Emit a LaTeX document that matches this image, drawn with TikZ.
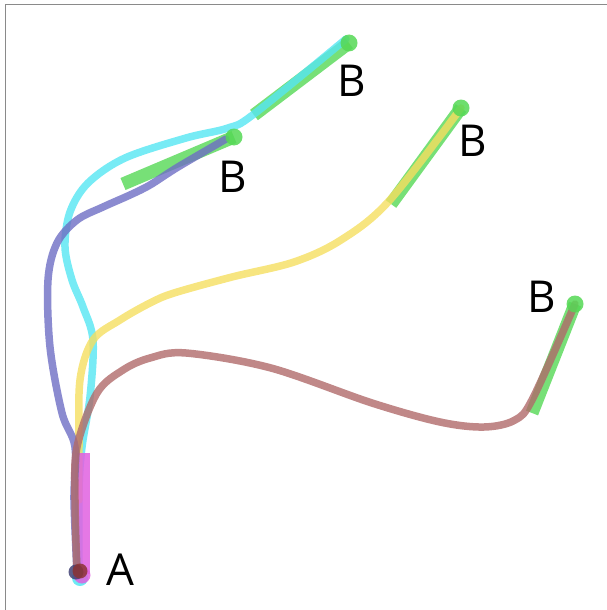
\documentclass[tikz,border=0pt]{standalone}
\usepackage{fontspec}
\setmainfont{Open Sans}
\definecolor{cyanc}{HTML}{55E6F2}
\definecolor{purplec}{HTML}{6E6EC4}
\definecolor{yellowc}{HTML}{F5DF60}
\definecolor{maroonc}{HTML}{B06A6A}
\definecolor{greenc}{HTML}{55D855}
\definecolor{magentac}{HTML}{E060E0}
\definecolor{framec}{HTML}{8A8A8A}
\begin{document}
\begin{tikzpicture}[x=1pt,y=-1pt,
  curve/.style={line width=7.5pt,opacity=0.8,line cap=round,line join=round},
  seg/.style={line width=13pt,greenc,opacity=0.8},
  dot/.style={circle,fill=#1,opacity=0.85,inner sep=0pt,minimum size=17pt},
  lbl/.style={font=\fontsize{44}{44}\selectfont,inner sep=0pt}]
\useasboundingbox (0,0) rectangle (607,610);
\draw[framec,line width=1.5pt] (5.5,610) -- (5.5,4.5) -- (607,4.5);
% points
\coordinate (A) at (77,572);
\coordinate (B1) at (234,137);
\coordinate (B2) at (349,43);
\coordinate (B3) at (461,108);
\coordinate (B4) at (575,304);
\coordinate (G1) at (123,184);
\coordinate (G2) at (254,115);
\coordinate (G3) at (391,204);
\coordinate (G4) at (532,413);
\coordinate (MA) at (83,574);
\coordinate (MB) at (83,453);
% green segments
\draw[seg] (G1) -- (B1);
\draw[seg] (G2) -- (B2);
\draw[seg] (G3) -- (B3);
\draw[seg] (G4) -- (B4);
% curves
\draw[curve,cyanc] plot[smooth,tension=0.55] coordinates {(79,576) (79,490) (82,447) (90,397) (93,340) (83,307) (72,280) (65,247) (70,212) (88,183) (125,158) (186,138) (228,128) (254,114) (346,39)};
\draw[curve,yellowc] plot[smooth,tension=0.55] coordinates {(79,500) (79,447) (80,380) (93,340) (120,320) (150,303) (174,293) (232,277) (294,262) (341,240) (389,201) (461,108)};
% magenta bar
\draw[line width=13pt,magentac,opacity=0.85] (MA) -- (MB);
\draw[curve,purplec] plot[smooth,tension=0.55] coordinates {(A) (74,500) (75,447) (62,413) (50,347) (48,280) (57,243) (77,220) (103,207) (130,195) (150,185) (178,167) (226,139)};
\draw[curve,maroonc] plot[smooth,tension=0.55] coordinates {(A) (75,500) (77,447) (97,393) (123,370) (150,358) (186,353) (271,368) (372,403) (440,422) (484,427) (515,420) (533,398) (575,304)};
% end dots
\node[dot=greenc] at (B1) {};
\node[dot=greenc] at (B2) {};
\node[dot=greenc] at (B3) {};
\node[dot=greenc] at (B4) {};
\node[dot=cyanc,minimum size=16pt] at (80,578) {};
\node[dot=magentac,minimum size=17pt] at (82,575) {};
\node[dot=purplec!60!black,minimum size=15pt] at (76,572) {};
\node[dot=maroonc!70!red!70!black,minimum size=15pt] at (80,571) {};
% labels
\node[lbl] (LA) at (120,570) {A};
\node[lbl] (LB1) at (233,177) {B};
\node[lbl] (LB2) at (352,81) {B};
\node[lbl] (LB3) at (473,141) {B};
\node[lbl] (LB4) at (542,297) {B};
\end{tikzpicture}
\end{document}
